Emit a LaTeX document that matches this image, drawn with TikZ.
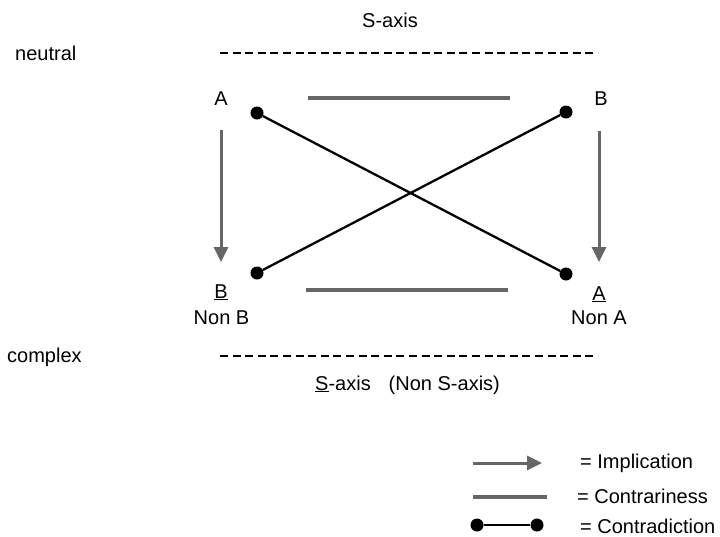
\documentclass[tikz,border=0pt]{standalone}
\usepackage{fontspec}
\setmainfont{Liberation Sans}
\usetikzlibrary{arrows.meta}
\definecolor{lgray}{RGB}{102,102,102}
\tikzset{
  txt/.style={inner sep=0pt, font=\fontsize{20}{24}\selectfont},
  dotnode/.style={circle, fill=black, inner sep=0pt, minimum size=13pt},
  contra/.style={black, line width=2.3pt},
  contrary/.style={lgray, line width=4pt},
  impl/.style={lgray, line width=3pt, -{Triangle[length=15pt,width=14pt]}},
  axisline/.style={black, line width=1.8pt, dash pattern=on 8pt off 4.6pt},
}
\begin{document}
\begin{tikzpicture}[x=1pt,y=-1pt]
\useasboundingbox[fill=white] (0,0) rectangle (720,536);
% labels
\node[txt, anchor=base west] (saxis) at (362,27) {S-axis};
\node[txt, anchor=base west] (neutral) at (15,60) {neutral};
\node[txt, anchor=base west] (complex) at (7,362) {complex};
\node[txt, anchor=base] (lA) at (221,105) {A};
\node[txt, anchor=base] (lB) at (601,105) {B};
\node[txt, anchor=base] (lBu) at (221,298) {\underline{B}};
\node[txt, anchor=base] (lNB) at (221.5,324) {Non B};
\node[txt, anchor=base] (lAu) at (599,300) {\underline{A}};
\node[txt, anchor=base] (lNA) at (599,324) {Non A};
\node[txt, anchor=base west] (nsaxis) at (315,390) {\underline{S}-axis\hspace{0.9em}(Non S-axis)};
% axes
\coordinate (n1) at (220,53); \coordinate (n2) at (598,53);
\coordinate (c1) at (220,356); \coordinate (c2) at (598,356);
\draw[axisline] (n1) -- (n2);
\draw[axisline] (c1) -- (c2);
% contrariness
\coordinate (t1) at (308,98); \coordinate (t2) at (510,98);
\coordinate (b1) at (306,290); \coordinate (b2) at (508,290);
\draw[contrary] (t1) -- (t2);
\draw[contrary] (b1) -- (b2);
% implications
\coordinate (ia1) at (221,130); \coordinate (ia2) at (221,262);
\coordinate (ib1) at (599,131); \coordinate (ib2) at (599,262);
\draw[impl] (ia1) -- (ia2);
\draw[impl] (ib1) -- (ib2);
% contradiction
\node[dotnode] (tl) at (257,113) {};
\node[dotnode] (tr) at (566,112) {};
\node[dotnode] (bl) at (257,273) {};
\node[dotnode] (br) at (566,274) {};
\draw[contra] (tl) -- (br);
\draw[contra] (bl) -- (tr);
% legend
\coordinate (li1) at (473,463); \coordinate (li2) at (542,463);
\draw[impl] (li1) -- (li2);
\node[txt, anchor=base west] (limpl) at (580,468) {= Implication};
\coordinate (lc1) at (473,497); \coordinate (lc2) at (547,497);
\draw[contrary] (lc1) -- (lc2);
\node[txt, anchor=base west] (lcontr) at (577,503) {= Contrariness};
\node[dotnode] (ld1) at (477,525) {};
\node[dotnode] (ld2) at (537,525) {};
\draw[contra] (ld1) -- (ld2);
\node[txt, anchor=base west] (lcd) at (580,533) {= Contradiction};
\end{tikzpicture}
\end{document}
